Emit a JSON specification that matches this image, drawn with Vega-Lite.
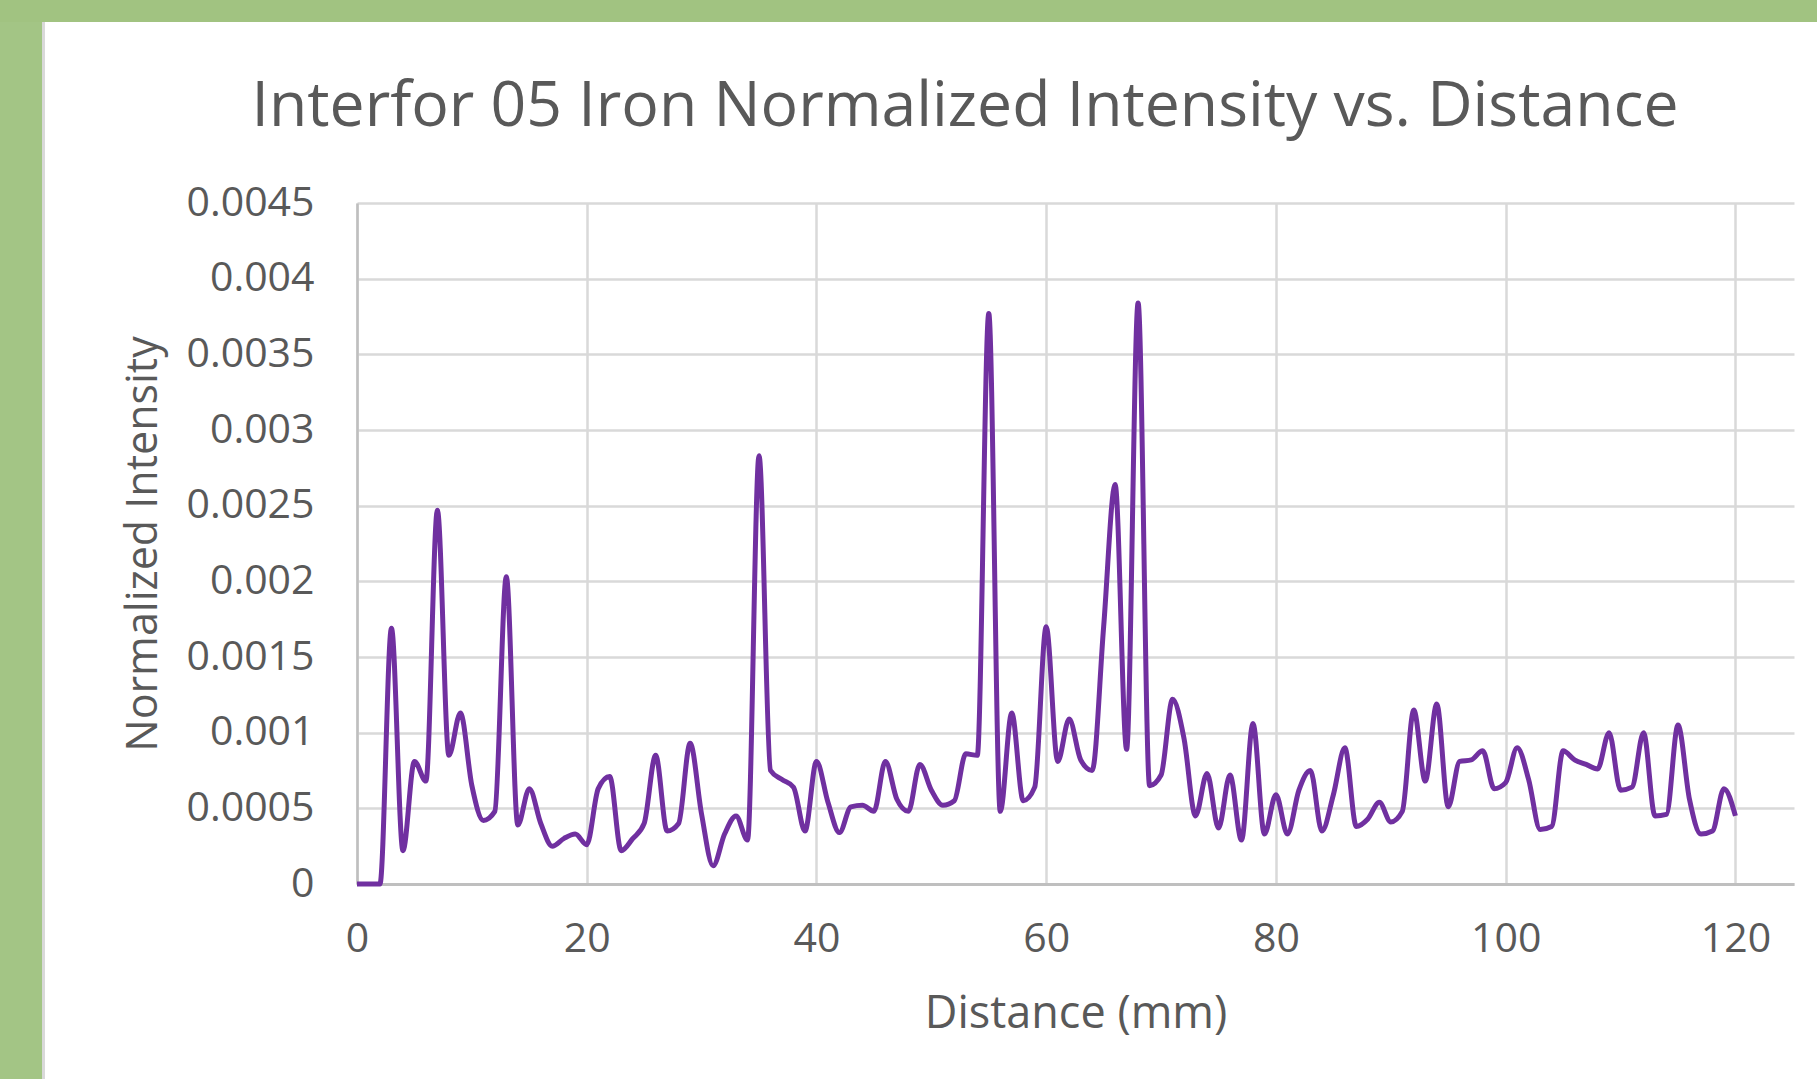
{
  "$schema": "https://vega.github.io/schema/vega-lite/v6.json",
  "background": "white",
  "padding": 0,
  "spacing": 0,
  "config": {"view": {"stroke": null}},
  "vconcat": [
    {
      "width": 1817, "height": 22,
      "view": {"fill": "#a1c381", "stroke": null},
      "data": {"values": []},
      "mark": {"type": "point", "opacity": 0},
      "encoding": {}
    },
    {
      "spacing": 77,
      "hconcat": [
        {
          "spacing": 0,
          "hconcat": [
            {
              "width": 42, "height": 1057,
              "view": {"fill": "#a3c585", "stroke": null},
              "data": {"values": []},
              "mark": {"type": "point", "opacity": 0},
              "encoding": {}
            },
            {
              "width": 3, "height": 1057,
              "view": {"fill": "#d9d9d9", "stroke": null},
              "data": {"values": []},
              "mark": {"type": "point", "opacity": 0},
              "encoding": {}
            }
          ]
        },
        {
          "spacing": 0,
          "vconcat": [
            {
              "width": 1, "height": 1,
              "view": {"stroke": null},
              "data": {"values": []},
              "mark": {"type": "point", "opacity": 0},
              "encoding": {}
            },
            {
              "width": 1437, "height": 681,
              "view": {"stroke": null},
              "title": {
                "text": [" ", "Interfor 05 Iron Normalized Intensity vs. Distance"],
                "font": "Open Sans", "fontSize": 62.5, "fontWeight": "normal", "lineHeight": 52,
                "color": "#595959", "anchor": "middle", "frame": "bounds", "offset": 43, "dx": 7
              },
              "data": {"values": [
                {"distance": 0, "intensity": 0},
                {"distance": 1, "intensity": 0},
                {"distance": 2, "intensity": 0},
                {"distance": 3, "intensity": 0.00169},
                {"distance": 4, "intensity": 0.00022},
                {"distance": 5, "intensity": 0.00081},
                {"distance": 6, "intensity": 0.00068},
                {"distance": 7, "intensity": 0.00247},
                {"distance": 8, "intensity": 0.00085},
                {"distance": 9, "intensity": 0.00113},
                {"distance": 10, "intensity": 0.00065},
                {"distance": 11, "intensity": 0.00042},
                {"distance": 12, "intensity": 0.00048},
                {"distance": 13, "intensity": 0.00203},
                {"distance": 14, "intensity": 0.00039},
                {"distance": 15, "intensity": 0.00063},
                {"distance": 16, "intensity": 0.0004},
                {"distance": 17, "intensity": 0.00025},
                {"distance": 18, "intensity": 0.0003},
                {"distance": 19, "intensity": 0.00033},
                {"distance": 20, "intensity": 0.00026},
                {"distance": 21, "intensity": 0.00063},
                {"distance": 22, "intensity": 0.00071},
                {"distance": 23, "intensity": 0.00022},
                {"distance": 24, "intensity": 0.0003},
                {"distance": 25, "intensity": 0.0004},
                {"distance": 26, "intensity": 0.00085},
                {"distance": 27, "intensity": 0.00035},
                {"distance": 28, "intensity": 0.0004},
                {"distance": 29, "intensity": 0.00093},
                {"distance": 30, "intensity": 0.00046},
                {"distance": 31, "intensity": 0.00012},
                {"distance": 32, "intensity": 0.00033},
                {"distance": 33, "intensity": 0.00045},
                {"distance": 34, "intensity": 0.00029},
                {"distance": 35, "intensity": 0.00283},
                {"distance": 36, "intensity": 0.00075},
                {"distance": 37, "intensity": 0.00069},
                {"distance": 38, "intensity": 0.00064},
                {"distance": 39, "intensity": 0.00035},
                {"distance": 40, "intensity": 0.00081},
                {"distance": 41, "intensity": 0.00054},
                {"distance": 42, "intensity": 0.00034},
                {"distance": 43, "intensity": 0.00051},
                {"distance": 44, "intensity": 0.00052},
                {"distance": 45, "intensity": 0.00048},
                {"distance": 46, "intensity": 0.00081},
                {"distance": 47, "intensity": 0.00056},
                {"distance": 48, "intensity": 0.00048},
                {"distance": 49, "intensity": 0.00079},
                {"distance": 50, "intensity": 0.00062},
                {"distance": 51, "intensity": 0.00052},
                {"distance": 52, "intensity": 0.00055},
                {"distance": 53, "intensity": 0.00086},
                {"distance": 54, "intensity": 0.00085},
                {"distance": 55, "intensity": 0.00377},
                {"distance": 56, "intensity": 0.00048},
                {"distance": 57, "intensity": 0.00113},
                {"distance": 58, "intensity": 0.00055},
                {"distance": 59, "intensity": 0.00064},
                {"distance": 60, "intensity": 0.0017},
                {"distance": 61, "intensity": 0.00081},
                {"distance": 62, "intensity": 0.00109},
                {"distance": 63, "intensity": 0.00082},
                {"distance": 64, "intensity": 0.00075},
                {"distance": 65, "intensity": 0.0017},
                {"distance": 66, "intensity": 0.00264},
                {"distance": 67, "intensity": 0.00089},
                {"distance": 68, "intensity": 0.00384},
                {"distance": 69, "intensity": 0.00065},
                {"distance": 70, "intensity": 0.00072},
                {"distance": 71, "intensity": 0.00122},
                {"distance": 72, "intensity": 0.00096},
                {"distance": 73, "intensity": 0.00045},
                {"distance": 74, "intensity": 0.00073},
                {"distance": 75, "intensity": 0.00037},
                {"distance": 76, "intensity": 0.00072},
                {"distance": 77, "intensity": 0.00029},
                {"distance": 78, "intensity": 0.00106},
                {"distance": 79, "intensity": 0.00033},
                {"distance": 80, "intensity": 0.00059},
                {"distance": 81, "intensity": 0.00033},
                {"distance": 82, "intensity": 0.00062},
                {"distance": 83, "intensity": 0.00075},
                {"distance": 84, "intensity": 0.00035},
                {"distance": 85, "intensity": 0.00059},
                {"distance": 86, "intensity": 0.0009},
                {"distance": 87, "intensity": 0.00038},
                {"distance": 88, "intensity": 0.00043},
                {"distance": 89, "intensity": 0.00054},
                {"distance": 90, "intensity": 0.00041},
                {"distance": 91, "intensity": 0.00048},
                {"distance": 92, "intensity": 0.00115},
                {"distance": 93, "intensity": 0.00068},
                {"distance": 94, "intensity": 0.00119},
                {"distance": 95, "intensity": 0.00051},
                {"distance": 96, "intensity": 0.00081},
                {"distance": 97, "intensity": 0.00082},
                {"distance": 98, "intensity": 0.00088},
                {"distance": 99, "intensity": 0.00063},
                {"distance": 100, "intensity": 0.00067},
                {"distance": 101, "intensity": 0.0009},
                {"distance": 102, "intensity": 0.00069},
                {"distance": 103, "intensity": 0.00036},
                {"distance": 104, "intensity": 0.00038},
                {"distance": 105, "intensity": 0.00088},
                {"distance": 106, "intensity": 0.00082},
                {"distance": 107, "intensity": 0.00079},
                {"distance": 108, "intensity": 0.00076},
                {"distance": 109, "intensity": 0.001},
                {"distance": 110, "intensity": 0.00062},
                {"distance": 111, "intensity": 0.00064},
                {"distance": 112, "intensity": 0.001},
                {"distance": 113, "intensity": 0.00045},
                {"distance": 114, "intensity": 0.00046},
                {"distance": 115, "intensity": 0.00105},
                {"distance": 116, "intensity": 0.00056},
                {"distance": 117, "intensity": 0.00033},
                {"distance": 118, "intensity": 0.00035},
                {"distance": 119, "intensity": 0.00063},
                {"distance": 120, "intensity": 0.00045}
              ]},
              "mark": {"type": "line", "color": "#7030a0", "strokeWidth": 5, "interpolate": "monotone"},
              "encoding": {
                "x": {
                  "field": "distance", "type": "quantitative",
                  "scale": {"domain": [0, 125.1], "nice": false, "zero": false},
                  "axis": {
                    "title": "Distance (mm)",
                    "values": [0, 20, 40, 60, 80, 100, 120],
                    "grid": true, "gridColor": "#d9d9d9", "gridWidth": 2.5,
                    "ticks": false, "domainColor": "#bfbfbf", "domainWidth": 3,
                    "labelFont": "Open Sans", "labelFontSize": 41, "labelColor": "#595959",
                    "labelPadding": 35, "labelFlush": false, "labelOverlap": false,
                    "titleFont": "Open Sans", "titleFontSize": 45, "titleFontWeight": "normal",
                    "titleColor": "#595959", "titlePadding": 32
                  }
                },
                "y": {
                  "field": "intensity", "type": "quantitative",
                  "scale": {"domain": [0, 0.0045], "nice": false},
                  "axis": {
                    "title": "Normalized Intensity",
                    "values": [0, 0.0005, 0.001, 0.0015, 0.002, 0.0025, 0.003, 0.0035, 0.004, 0.0045],
                    "format": ".4~f",
                    "grid": true, "gridColor": "#d9d9d9", "gridWidth": 2.5,
                    "ticks": false, "domainColor": "#bfbfbf", "domainWidth": 2.5,
                    "labelFont": "Open Sans", "labelFontSize": 41, "labelColor": "#595959",
                    "labelPadding": 43, "labelFlush": false, "labelOverlap": false,
                    "titleFont": "Open Sans", "titleFontSize": 43, "titleFontWeight": "normal",
                    "titleColor": "#595959", "titlePadding": 21
                  }
                }
              }
            }
          ]
        }
      ]
    }
  ]
}
